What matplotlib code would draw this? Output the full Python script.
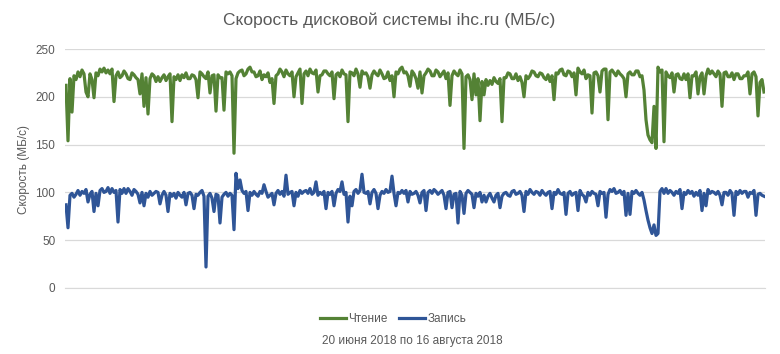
import matplotlib
matplotlib.use("Agg")
import matplotlib.pyplot as plt
from matplotlib.lines import Line2D

plt.rcParams['font.family'] = ['Liberation Sans', 'DejaVu Sans']

title = "Скорость дисковой системы ihc.ru (МБ/с)"
ylabel = "Скорость (МБ/с)"
xlabel = "20 июня 2018 по 16 августа 2018"
series_names = ["Чтение", "Запись"]
yticks = [0, 50, 100, 150, 200, 250]

read_vals = [
    212, 154, 219, 184, 222, 218, 226, 221, 228, 224,
    205, 200, 224, 218, 199, 225, 222, 229, 226, 230,
    225, 228, 224, 229, 195, 222, 226, 220, 222, 227,
    224, 219, 218, 225, 223, 220, 218, 203, 224, 190,
    220, 182, 219, 224, 222, 216, 221, 216, 220, 223,
    217, 221, 224, 174, 221, 218, 223, 217, 223, 220,
    225, 219, 219, 223, 222, 218, 199, 226, 224, 221,
    219, 226, 204, 222, 223, 185, 223, 220, 220, 186,
    226, 224, 226, 222, 141, 219, 225, 227, 228, 222,
    224, 229, 231, 226, 226, 221, 222, 227, 218, 223,
    221, 225, 215, 219, 193, 222, 224, 229, 226, 221,
    228, 224, 222, 226, 200, 221, 225, 229, 193, 224,
    227, 222, 229, 225, 224, 228, 205, 222, 223, 227,
    227, 224, 222, 226, 198, 223, 225, 221, 228, 224,
    223, 174, 226, 225, 222, 229, 224, 210, 227, 224,
    225, 221, 209, 223, 227, 224, 222, 228, 224, 219,
    220, 226, 217, 222, 200, 226, 224, 229, 231, 225,
    226, 222, 211, 227, 224, 219, 209, 226, 204, 222,
    225, 229, 227, 222, 222, 228, 226, 221, 224, 227,
    219, 225, 191, 222, 227, 224, 222, 228, 224, 146,
    221, 223, 218, 197, 224, 202, 219, 175, 216, 202,
    218, 212, 217, 213, 220, 216, 214, 219, 174, 220,
    220, 225, 224, 219, 219, 224, 217, 221, 215, 200,
    222, 219, 222, 227, 226, 222, 221, 225, 224, 220,
    218, 223, 216, 222, 197, 225, 224, 228, 229, 223,
    222, 227, 226, 221, 225, 202, 230, 226, 224, 228,
    219, 223, 222, 183, 225, 226, 222, 205, 227, 229,
    229, 176, 226, 228, 225, 222, 227, 224, 222, 219,
    200, 224, 226, 223, 223, 227, 227, 221, 222, 207,
    176, 160, 155, 152, 190, 146, 231, 226, 228, 153,
    226, 222, 220, 225, 205, 223, 224, 219, 218, 224,
    218, 224, 199, 222, 222, 226, 203, 221, 225, 203,
    222, 229, 224, 227, 224, 221, 227, 224, 190, 225,
    226, 221, 221, 225, 218, 224, 224, 219, 219, 222,
    222, 226, 203, 224, 226, 221, 180, 215, 218, 205,
]

write_vals = [
    87, 63, 97, 99, 95, 98, 102, 97, 101, 99,
    103, 90, 98, 101, 80, 99, 86, 102, 104, 100,
    101, 105, 99, 104, 100, 102, 69, 103, 99, 104,
    99, 104, 101, 97, 103, 101, 98, 89, 100, 86,
    99, 95, 101, 97, 99, 101, 100, 88, 97, 101,
    97, 80, 99, 96, 99, 94, 100, 97, 95, 100,
    87, 99, 100, 97, 83, 98, 97, 100, 102, 96,
    22, 96, 99, 94, 80, 98, 97, 68, 95, 98,
    100, 96, 99, 97, 61, 120, 104, 113, 102, 99,
    101, 81, 100, 97, 101, 98, 96, 101, 99, 108,
    101, 95, 97, 99, 87, 99, 102, 98, 101, 96,
    118, 98, 100, 101, 86, 100, 96, 102, 99, 101,
    102, 99, 104, 98, 100, 111, 97, 100, 98, 101,
    83, 100, 98, 101, 86, 99, 103, 101, 111, 98,
    100, 69, 96, 86, 101, 103, 99, 102, 119, 100,
    99, 101, 88, 100, 103, 99, 83, 97, 101, 99,
    103, 100, 101, 117, 99, 86, 100, 99, 102, 99,
    102, 90, 101, 98, 99, 101, 97, 89, 100, 102,
    81, 100, 102, 99, 103, 101, 98, 100, 102, 97,
    83, 100, 101, 84, 98, 99, 68, 101, 97, 78,
    99, 102, 100, 98, 84, 99, 96, 100, 90, 97,
    90, 96, 99, 94, 90, 97, 99, 84, 96, 99,
    100, 97, 96, 101, 102, 98, 99, 101, 97, 80,
    101, 98, 103, 100, 98, 101, 100, 97, 102, 99,
    97, 100, 101, 83, 100, 98, 103, 99, 98, 100,
    77, 99, 101, 97, 99, 100, 81, 102, 98, 96,
    90, 100, 97, 101, 99, 98, 86, 101, 99, 100,
    74, 98, 103, 101, 104, 99, 100, 102, 98, 101,
    76, 99, 77, 101, 99, 102, 99, 97, 100, 92,
    81, 71, 63, 57, 66, 55, 57, 101, 104, 99,
    104, 99, 102, 100, 97, 101, 99, 103, 83, 100,
    98, 102, 99, 101, 96, 100, 97, 102, 81, 99,
    86, 103, 99, 101, 100, 98, 101, 97, 87, 100,
    100, 97, 102, 99, 76, 101, 98, 102, 99, 101,
    101, 95, 100, 99, 102, 76, 98, 99, 97, 96,
]

green = "#548235"
blue = "#2F5597"
grid_c = "#D9D9D9"
text_c = "#595959"

fig = plt.figure(figsize=(7.8, 3.54), dpi=100)
ax = fig.add_axes([65/780, 1 - 288/354, 700/780, (288 - 49)/354])

x = list(range(len(read_vals)))
ax.plot(x, read_vals, color=green, lw=2.3, solid_joinstyle='round', zorder=3)
ax.plot(x, write_vals, color=blue, lw=2.3, solid_joinstyle='round', zorder=4)

ax.set_ylim(0, 250)
ax.set_yticks(yticks)
ax.set_xlim(-0.5, len(read_vals) - 0.5)
ax.set_xticks([])
ax.grid(axis='y', color=grid_c, lw=0.9)
ax.set_axisbelow(True)
for s in ['top', 'right', 'left']:
    ax.spines[s].set_visible(False)
ax.spines['bottom'].set_color(grid_c)
ax.tick_params(axis='y', length=0, colors=text_c, labelsize=8.5, pad=7)

fig.text(24/780, 1 - 170/354, ylabel, rotation=90, ha='center', va='center',
         color=text_c, fontsize=8.5)
fig.text(389/780, 1 - 20/354, title, ha='center', va='center', color=text_c, fontsize=12.5)
fig.text(412/780, 1 - 341/354, xlabel, ha='center', va='center', color=text_c, fontsize=8.5)

handles = [Line2D([0], [0], color=green, lw=2.3), Line2D([0], [0], color=blue, lw=2.3)]
fig.legend(handles, series_names, loc='center', bbox_to_anchor=(393/780, 1 - 319/354),
           ncol=2, frameon=False, fontsize=8.5, labelcolor=text_c, handlelength=2.2,
           handletextpad=0.2, columnspacing=1.0)

fig.savefig("out.png", dpi=100, facecolor='white')
